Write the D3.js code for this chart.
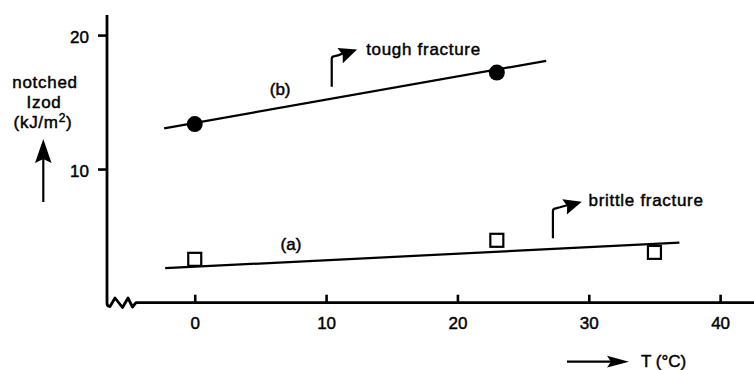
<!DOCTYPE html>
<html>
<head>
<meta charset="utf-8">
<script src="https://cdn.jsdelivr.net/npm/d3@7"></script>
<style>
  body { margin: 0; background: #fff; }
  svg { display: block; font-family: "Liberation Sans", Arial, Helvetica, sans-serif; }
  .lbl { font-size: 17px; fill: #000; stroke: #000; stroke-width: 0.45px; }
  .word { letter-spacing: 0.7px; }
</style>
</head>
<body>
<div id="chart"></div>
<script>
// data
const tempTicks = [0, 10, 20, 30, 40];
const izodTicks = [10, 20];

// (a) brittle series, open squares
const seriesATemp = [0, 23, 35];
const seriesAIzod = [3.26, 4.68, 3.78];
// (b) tough series, filled circles
const seriesBTemp = [0, 23];
const seriesBIzod = [13.36, 17.2];

// hand drawn trend lines (end points)
const fitATemp = [-2.25, 36.9];
const fitAIzod = [2.6, 4.5];
const fitBTemp = [-2.33, 26.76];
const fitBIzod = [13.04, 18.08];

// annotations in data units
const seriesLabels = [
    {text: "(a)", t: 7.33, v: 3.96},
    {text: "(b)", t: 6.5, v: 15.52}
];
const fractureNotes = [
    {text: "tough fracture", t0: 10.43, v0: 16.14, v1: 18.43, tipT: 12.36, tipV: 18.92, textT: 13.05, textV: 18.5},
    {text: "brittle fracture", t0: 27.27, v0: 4.83, v1: 7.07, tipT: 29.47, tipV: 7.56, textT: 29.98, textV: 7.24}
];

const width = 754, height = 370;
const svg = d3.select("#chart").append("svg")
    .attr("width", width)
    .attr("height", height);

const x = d3.scaleLinear().domain([-6.68, 42.58]).range([107, 754]);
const y = d3.scaleLinear().domain([0, 21.5]).range([303, 15]);
const axisY = 302.7;

//Axis line with break
svg.append("path")
    .attr("d", "M107," + y(21.5) + " V303 Q107,306.5 110,306.5 L115,298 L122.5,307.5 L128,298 L132.5,307 L136," + axisY + " H" + width)
    .attr("fill", "none")
    .attr("stroke", "#000")
    .attr("stroke-width", 2.8)
    .attr("stroke-linejoin", "round");

//Y ticks
const yAxis = svg.append("g")
    .attr("transform", "translate(107,0)")
    .call(d3.axisLeft(y).tickValues(izodTicks).tickSize(9).tickPadding(9));
yAxis.select(".domain").remove();
yAxis.selectAll("line").attr("stroke-width", 2.6);
yAxis.selectAll("text")
    .attr("class", "lbl")
    .attr("dy", "0.42em")
    .style("font-family", "inherit")
    .style("font-size", "17px");
yAxis.attr("font-size", null).attr("font-family", null);

//X ticks
const xAxis = svg.append("g")
    .attr("transform", "translate(0," + axisY + ")")
    .call(d3.axisBottom(x).tickValues(tempTicks).tickSizeInner(-8).tickSizeOuter(0).tickPadding(14));
xAxis.select(".domain").remove();
xAxis.selectAll("line").attr("stroke-width", 2.6);
xAxis.selectAll("text")
    .attr("class", "lbl")
    .style("font-family", "inherit")
    .style("font-size", "17px");
xAxis.attr("font-size", null).attr("font-family", null);

//Trend lines
const line = d3.line().x(d => x(d[0])).y(d => y(d[1]));
[[fitATemp, fitAIzod], [fitBTemp, fitBIzod]].forEach(function (f) {
    svg.append("path")
        .datum(f[0].map((t, i) => [t, f[1][i]]))
        .attr("d", line)
        .attr("fill", "none")
        .attr("stroke", "#000")
        .attr("stroke-width", 2.2);
});

//Points
const sq = 13;
svg.selectAll(".pt-a")
    .data(seriesATemp.map((t, i) => [t, seriesAIzod[i]]))
    .enter().append("rect")
    .attr("class", "pt-a")
    .attr("x", d => x(d[0]) - sq / 2)
    .attr("y", d => y(d[1]) - sq / 2)
    .attr("width", sq)
    .attr("height", sq)
    .attr("fill", "#fff")
    .attr("stroke", "#000")
    .attr("stroke-width", 2.2);
svg.selectAll(".pt-b")
    .data(seriesBTemp.map((t, i) => [t, seriesBIzod[i]]))
    .enter().append("circle")
    .attr("class", "pt-b")
    .attr("cx", d => x(d[0]))
    .attr("cy", d => y(d[1]))
    .attr("r", 8)
    .attr("fill", "#000");

//Series labels
svg.selectAll(".series-label")
    .data(seriesLabels)
    .enter().append("text")
    .attr("class", "lbl series-label")
    .attr("x", d => x(d.t))
    .attr("y", d => y(d.v))
    .attr("text-anchor", "middle")
    .text(d => d.text);

//Arrow head helper
function head(tipX, tipY, fromX, fromY, len, half) {
    const a = Math.atan2(tipY - fromY, tipX - fromX);
    const bx = tipX - len * Math.cos(a), by = tipY - len * Math.sin(a);
    const px = -Math.sin(a) * half, py = Math.cos(a) * half;
    return "M" + tipX + "," + tipY + " L" + (bx + px) + "," + (by + py) +
        " L" + (bx + len * 0.15 * Math.cos(a)) + "," + (by + len * 0.15 * Math.sin(a)) +
        " L" + (bx - px) + "," + (by - py) + " Z";
}

//Fracture notes
fractureNotes.forEach(function (n) {
    const x0 = x(n.t0), yb = y(n.v0), yt = y(n.v1);
    const tx = x(n.tipT), ty = y(n.tipV);
    const mx = x0 + 7, my = yt - 1;
    svg.append("path")
        .attr("d", "M" + x0 + "," + yb + " V" + (yt + 3) + " Q" + x0 + "," + yt + " " + (x0 + 3) + "," + yt + " L" + mx + "," + my + " L" + (tx - 10) + "," + (ty + (my - ty) * 0.4))
        .attr("fill", "none")
        .attr("stroke", "#000")
        .attr("stroke-width", 2.2);
    svg.append("path")
        .attr("d", head(tx, ty, mx, my + 1, 18, 8))
        .attr("fill", "#000");
    svg.append("text")
        .attr("class", "lbl word")
        .attr("x", x(n.textT))
        .attr("y", y(n.textV))
        .text(n.text);
});

//Y title
const yTitle = svg.append("text")
    .attr("class", "lbl word")
    .attr("text-anchor", "middle");
yTitle.append("tspan").attr("x", 45).attr("y", 88).text("notched");
yTitle.append("tspan").attr("x", 44).attr("y", 108).text("Izod");
yTitle.append("tspan").attr("x", 43).attr("y", 128).text("(kJ/m");
yTitle.append("tspan").attr("dy", -6).style("font-size", "12px").text("2");
yTitle.append("tspan").attr("dy", 6).text(")");

svg.append("line")
    .attr("x1", 43.3).attr("x2", 43.3)
    .attr("y1", 202).attr("y2", 158)
    .attr("stroke", "#000").attr("stroke-width", 2.2);
svg.append("path")
    .attr("d", "M43.3,139 L51.5,163 L43.3,159 L35,163 Z")
    .attr("fill", "#000");

//X title
svg.append("line")
    .attr("x1", 567).attr("x2", 612)
    .attr("y1", 361.7).attr("y2", 361.7)
    .attr("stroke", "#000").attr("stroke-width", 2.2);
svg.append("path")
    .attr("d", "M629,361.7 L607,355.8 L611,361.7 L607,367.6 Z")
    .attr("fill", "#000");
svg.append("text")
    .attr("class", "lbl")
    .attr("x", 641)
    .attr("y", 367)
    .text("T (°C)");
</script>
</body>
</html>
